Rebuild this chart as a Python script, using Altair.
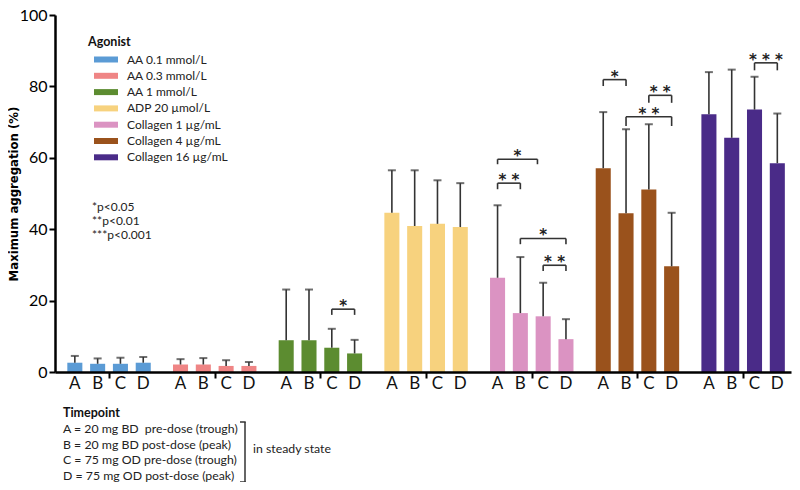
import altair as alt
import pandas as pd

FONT = "Lato"

agonists = ["AA 0.1 mmol/L", "AA 0.3 mmol/L", "AA 1 mmol/L", "ADP 20 µmol/L",
            "Collagen 1 µg/mL", "Collagen 4 µg/mL", "Collagen 16 µg/mL"]
colors = ["#5b9bd5", "#ef8585", "#5c8c30", "#f7d27e", "#db93c2", "#9a521c", "#4a2b88"]
timepoints = ["A", "B", "C", "D"]

means = [
    [2.6, 2.3, 2.3, 2.6],
    [2.1, 2.1, 1.7, 1.7],
    [8.9, 8.9, 6.8, 5.2],
    [44.6, 40.9, 41.5, 40.6],
    [26.4, 16.5, 15.6, 9.2],
    [57.1, 44.5, 51.1, 29.6],
    [72.2, 65.6, 73.5, 58.5],
]
upper = [
    [4.5, 3.8, 4.0, 4.2],
    [3.6, 3.9, 3.3, 2.8],
    [23.1, 23.1, 12.1, 9.0],
    [56.5, 56.5, 53.7, 52.9],
    [46.7, 32.2, 25.0, 14.8],
    [72.8, 68.0, 69.4, 44.6],
    [84.0, 84.7, 82.7, 72.4],
]

# significance brackets
br_group = [2, 4, 4, 4, 4, 5, 5, 5, 6]
br_from = [2, 0, 0, 1, 2, 0, 2, 1, 2]
br_to = [3, 1, 1.75, 3, 3, 1, 3, 3, 3]
br_top = [17.6, 52.9, 59.6, 37.4, 29.9, 81.9, 77.5, 71.5, 86.6]
br_leg = [16.0, 51.2, 58.2, 35.8, 28.3, 80.1, 75.4, 68.9, 84.5]
br_label = ["*", "* *", "*", "*", "* *", "*", "* *", "* *", "* * *"]

pvalue_notes = ["*p<0.05", "**p<0.01", "***p<0.001"]
timepoint_title = "Timepoint"
timepoint_lines = [
    "A = 20 mg BD\u2002pre-dose (trough)",
    "B = 20 mg BD post-dose (peak)",
    "C = 75 mg OD pre-dose (trough)",
    "D = 75 mg OD post-dose (peak)",
]
steady_text = "in steady state"

# layout constants
G = 4.635          # group step in bar units
HALF = 0.33        # half bar width in bar units
W, H = 736, 357

rows = []
for gi, ag in enumerate(agonists):
    for ti, tp in enumerate(timepoints):
        pos = gi * G + ti
        rows.append(dict(agonist=ag, timepoint=tp, pos=pos, x0=pos - HALF, x1=pos + HALF,
                         mean=means[gi][ti], upper=upper[gi][ti]))
df = pd.DataFrame(rows)

brows = []
for g, f, t, top, leg, lab in zip(br_group, br_from, br_to, br_top, br_leg, br_label):
    xa = g * G + f
    xb = g * G + t
    brows.append(dict(xa=xa, xb=xb, mid=(xa + xb) / 2, top=top, leg=leg, label=lab))
bdf = pd.DataFrame(brows)

xscale = alt.Scale(domain=[-0.87, 31.41], nice=False, zero=False)
yscale = alt.Scale(domain=[0, 100], nice=False)

xaxis = alt.Axis(values=[g * G + 1.5 for g in range(len(agonists))], labels=False, title=None,
                 grid=False, tickSize=6, tickWidth=2, tickColor="black", domainColor="black",
                 domainWidth=2.5, zindex=1)
yaxis = alt.Axis(values=[0, 20, 40, 60, 80, 100], title="Maximum aggregation (%)", grid=False,
                 tickSize=6, tickWidth=2, tickColor="black", domainColor="black", domainWidth=2.5,
                 labelFontSize=16, labelFont=FONT, labelColor="black", labelPadding=2,
                 titleFont="DejaVu Sans", titleFontSize=11.7, titleFontWeight="bold",
                 titleColor="black", titlePadding=0, zindex=1)

legend = alt.Legend(title="Agonist", orient="none", legendX=33, legendY=21,
                    symbolType="M0,-0.5H4V0.5H0Z", symbolSize=144, symbolStrokeWidth=0,
                    symbolOpacity=1, labelOffset=27, labelFont=FONT, labelFontSize=12,
                    labelColor="#222", titleFont=FONT, titleFontSize=12.5, titleFontWeight="bold",
                    titleColor="#111", titlePadding=5, rowPadding=4.3, padding=0)

base = alt.Chart(df)

bars = base.mark_bar().encode(
    x=alt.X("x0:Q", scale=xscale, axis=xaxis),
    x2="x1:Q",
    y=alt.Y("mean:Q", scale=yscale, axis=yaxis),
    y2=alt.datum(0),
    color=alt.Color("agonist:N", scale=alt.Scale(domain=agonists, range=colors), legend=legend),
)

err = base.mark_rule(color="#333333", strokeWidth=1.6).encode(
    x="pos:Q", y="mean:Q", y2="upper:Q")
caps = base.mark_tick(orient="horizontal", color="#333333", size=8, thickness=2).encode(
    x="pos:Q", y="upper:Q")
letters = base.mark_text(font=FONT, fontSize=17, baseline="middle", color="#111").encode(
    x="pos:Q", y=alt.value(H + 12), text="timepoint:N")

bb = alt.Chart(bdf)
br_h = bb.mark_rule(color="#333333", strokeWidth=1.6).encode(x="xa:Q", x2="xb:Q", y="top:Q")
br_l = bb.mark_rule(color="#333333", strokeWidth=1.6).encode(x="xa:Q", y="top:Q", y2="leg:Q")
br_r = bb.mark_rule(color="#333333", strokeWidth=1.6).encode(x="xb:Q", y="top:Q", y2="leg:Q")
br_t = bb.mark_text(font="DejaVu Sans", fontSize=15, fontWeight="bold", baseline="alphabetic",
                    dy=2, color="#222").encode(x="mid:Q", y="top:Q", text="label:N")

one = pd.DataFrame({"k": [0]})
annotations = []
for i, line in enumerate(pvalue_notes):
    annotations.append(alt.Chart(one).mark_text(
        font=FONT, fontSize=12, align="left", baseline="middle", color="#222").encode(
        x=alt.value(37), y=alt.value(192 + 14 * i), text=alt.value(line)))
annotations.append(alt.Chart(one).mark_text(
    font=FONT, fontSize=12.5, fontWeight="bold", align="left", baseline="middle",
    color="#111").encode(x=alt.value(8), y=alt.value(398), text=alt.value(timepoint_title)))
for i, line in enumerate(timepoint_lines):
    annotations.append(alt.Chart(one).mark_text(
        font=FONT, fontSize=12.3, align="left", baseline="middle", color="#222").encode(
        x=alt.value(8), y=alt.value(414.3 + 15.5 * i), text=alt.value(line)))
annotations.append(alt.Chart(one).mark_rule(color="#333333", strokeWidth=1.5).encode(
    x=alt.value(190), y=alt.value(407), y2=alt.value(467)))
annotations.append(alt.Chart(one).mark_rule(color="#333333", strokeWidth=1.5).encode(
    x=alt.value(185), x2=alt.value(190.7), y=alt.value(407)))
annotations.append(alt.Chart(one).mark_rule(color="#333333", strokeWidth=1.5).encode(
    x=alt.value(185), x2=alt.value(190.7), y=alt.value(467)))
annotations.append(alt.Chart(one).mark_text(
    font=FONT, fontSize=12.3, align="left", baseline="middle", color="#222").encode(
    x=alt.value(198), y=alt.value(434), text=alt.value(steady_text)))

chart = alt.layer(
    bars, err, caps, letters, br_h, br_l, br_r, br_t, *annotations
).properties(
    width=W, height=H,
    autosize=alt.AutoSizeParams(type="none"),
    padding={"left": 47, "top": 7, "right": 1, "bottom": 110},
    background="white",
).configure_view(stroke=None)

chart.save("out.html", embed_options={"renderer": "svg", "actions": False})
